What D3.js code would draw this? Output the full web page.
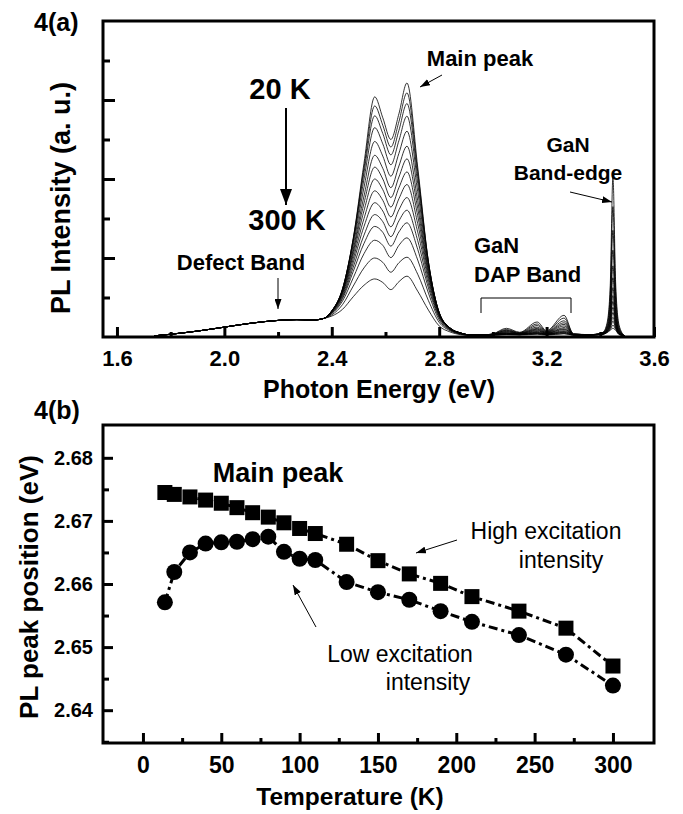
<!DOCTYPE html>
<html>
<head>
<meta charset="utf-8">
<script src="https://cdn.jsdelivr.net/npm/d3@7"></script>
<style>
	body { margin: 0; background: #fff; }
	svg { display: block; font-family: "Liberation Sans", Arial, sans-serif; }
</style>
</head>
<body>
<div id="chart"></div>
<script>
// ---- panel (a): PL spectra, 20 K (top) to 300 K (bottom)
const temps = [20, 40, 60, 80, 100, 120, 140, 160, 180, 200, 220, 240, 260, 280, 300];

// low energy tail, all curves lie on top of each other here
const tailEnergy = [1.74, 1.80, 1.90, 2.00, 2.10, 2.20, 2.27, 2.33, 2.37];
const tailLevel = [0.03, 0.07, 0.15, 0.25, 0.35, 0.42, 0.44, 0.43, 0.47];

// main double peak
const peakEnergy = [2.40, 2.44, 2.48, 2.52, 2.56, 2.59, 2.62, 2.65, 2.68, 2.72, 2.76, 2.80, 2.84, 2.88, 2.92];
const peakLevels = [
	[0.65, 1.20, 2.50, 4.40, 6.08, 5.55, 5.00, 5.65, 6.43, 4.30, 1.90, 0.60, 0.22, 0.10, 0.05],
	[0.66, 1.21, 2.49, 4.29, 5.85, 5.36, 4.81, 5.45, 6.18, 4.19, 1.90, 0.61, 0.23, 0.10, 0.05],
	[0.66, 1.22, 2.46, 4.17, 5.60, 5.15, 4.61, 5.23, 5.91, 4.06, 1.89, 0.62, 0.23, 0.10, 0.05],
	[0.66, 1.21, 2.41, 4.00, 5.30, 4.89, 4.36, 4.97, 5.59, 3.89, 1.85, 0.62, 0.23, 0.10, 0.05],
	[0.66, 1.19, 2.33, 3.79, 4.95, 4.58, 4.07, 4.65, 5.21, 3.68, 1.79, 0.62, 0.23, 0.10, 0.05],
	[0.65, 1.16, 2.23, 3.57, 4.60, 4.27, 3.78, 4.33, 4.83, 3.45, 1.72, 0.60, 0.23, 0.10, 0.05],
	[0.65, 1.14, 2.16, 3.39, 4.30, 4.00, 3.53, 4.05, 4.51, 3.26, 1.66, 0.59, 0.23, 0.10, 0.05],
	[0.64, 1.12, 2.08, 3.20, 4.00, 3.73, 3.29, 3.78, 4.18, 3.07, 1.60, 0.58, 0.22, 0.10, 0.05],
	[0.64, 1.09, 1.98, 3.00, 3.70, 3.46, 3.04, 3.50, 3.86, 2.87, 1.52, 0.56, 0.22, 0.10, 0.05],
	[0.63, 1.05, 1.88, 2.80, 3.40, 3.19, 2.79, 3.22, 3.53, 2.66, 1.44, 0.54, 0.21, 0.09, 0.05],
	[0.62, 1.01, 1.77, 2.58, 3.10, 2.92, 2.54, 2.94, 3.21, 2.44, 1.34, 0.51, 0.20, 0.09, 0.05],
	[0.60, 0.97, 1.66, 2.37, 2.80, 2.65, 2.30, 2.66, 2.89, 2.22, 1.24, 0.48, 0.19, 0.09, 0.05],
	[0.59, 0.91, 1.50, 2.11, 2.45, 2.32, 2.01, 2.32, 2.51, 1.95, 1.11, 0.43, 0.18, 0.08, 0.04],
	[0.56, 0.82, 1.29, 1.75, 2.00, 1.89, 1.64, 1.88, 2.02, 1.59, 0.92, 0.37, 0.16, 0.07, 0.04],
	[0.53, 0.70, 1.02, 1.31, 1.47, 1.38, 1.20, 1.40, 1.54, 1.16, 0.68, 0.28, 0.13, 0.06, 0.04]
];

// GaN donor-acceptor pair band
const dapEnergy = [2.96, 3.00, 3.05, 3.10, 3.165, 3.20, 3.265, 3.30, 3.36];
const dapLevels = [
	[0.05, 0.08, 0.22, 0.12, 0.38, 0.16, 0.55, 0.08, 0.06],
	[0.05, 0.08, 0.19, 0.11, 0.33, 0.14, 0.48, 0.08, 0.06],
	[0.05, 0.07, 0.17, 0.10, 0.29, 0.13, 0.41, 0.07, 0.06],
	[0.05, 0.07, 0.16, 0.09, 0.25, 0.12, 0.36, 0.07, 0.06],
	[0.05, 0.07, 0.14, 0.09, 0.22, 0.11, 0.32, 0.07, 0.06],
	[0.05, 0.06, 0.13, 0.08, 0.20, 0.10, 0.28, 0.06, 0.05],
	[0.05, 0.06, 0.11, 0.08, 0.18, 0.09, 0.24, 0.06, 0.05],
	[0.05, 0.06, 0.10, 0.07, 0.16, 0.09, 0.21, 0.06, 0.05],
	[0.05, 0.06, 0.10, 0.07, 0.14, 0.08, 0.19, 0.06, 0.05],
	[0.05, 0.06, 0.09, 0.07, 0.12, 0.07, 0.16, 0.06, 0.05],
	[0.05, 0.06, 0.08, 0.06, 0.11, 0.07, 0.14, 0.06, 0.05],
	[0.05, 0.05, 0.07, 0.06, 0.10, 0.07, 0.12, 0.05, 0.05],
	[0.05, 0.05, 0.07, 0.06, 0.09, 0.06, 0.11, 0.05, 0.05],
	[0.05, 0.05, 0.06, 0.06, 0.08, 0.06, 0.09, 0.05, 0.05],
	[0.05, 0.05, 0.06, 0.05, 0.07, 0.05, 0.08, 0.05, 0.05]
];

// GaN band-edge line
const edgeEnergy = [3.39, 3.41, 3.425, 3.437, 3.447, 3.457, 3.47, 3.49];
const edgeLevels = [
	[0.07, 0.12, 0.35, 1.30, 4.05, 1.40, 0.30, 0.03],
	[0.07, 0.11, 0.30, 1.09, 3.30, 1.16, 0.25, 0.03],
	[0.07, 0.11, 0.26, 0.91, 2.70, 0.96, 0.21, 0.03],
	[0.07, 0.10, 0.23, 0.76, 2.20, 0.80, 0.18, 0.03],
	[0.07, 0.10, 0.21, 0.64, 1.80, 0.68, 0.16, 0.03],
	[0.07, 0.10, 0.19, 0.55, 1.50, 0.58, 0.14, 0.03],
	[0.07, 0.09, 0.18, 0.48, 1.25, 0.50, 0.13, 0.03],
	[0.07, 0.09, 0.16, 0.42, 1.05, 0.44, 0.11, 0.03],
	[0.07, 0.09, 0.15, 0.37, 0.90, 0.39, 0.10, 0.03],
	[0.06, 0.08, 0.15, 0.33, 0.75, 0.34, 0.10, 0.03],
	[0.06, 0.08, 0.14, 0.29, 0.62, 0.30, 0.09, 0.03],
	[0.06, 0.08, 0.13, 0.25, 0.50, 0.26, 0.08, 0.03],
	[0.06, 0.07, 0.12, 0.22, 0.40, 0.23, 0.07, 0.03],
	[0.06, 0.07, 0.12, 0.19, 0.30, 0.20, 0.07, 0.03],
	[0.05, 0.07, 0.11, 0.17, 0.22, 0.17, 0.06, 0.03]
];

const energyTicks = [1.6, 2.0, 2.4, 2.8, 3.2, 3.6];
const energyMinor = [1.8, 2.2, 2.6, 3.0, 3.4];
const intensityTicks = [2, 4, 6];
const intensityMinor = [1, 3, 5, 7];

// ---- panel (b): main peak position vs temperature
const tempK = [14, 20, 30, 40, 50, 60, 70, 80, 90, 100, 110, 130, 150, 170, 190, 210, 240, 270, 300];
const highExc = [2.6745, 2.6742, 2.6738, 2.6733, 2.6728, 2.6721, 2.6713, 2.6706, 2.6697, 2.6688, 2.6680,
	2.6663, 2.6637, 2.6616, 2.6601, 2.6580, 2.6557, 2.6530, 2.6470];
const lowExc = [2.6571, 2.6619, 2.6650, 2.6664, 2.6666, 2.6667, 2.6671, 2.6675, 2.6651, 2.6640, 2.6638,
	2.6603, 2.6587, 2.6575, 2.6557, 2.6540, 2.6519, 2.6488, 2.6439];

const tempTicks = [0, 50, 100, 150, 200, 250, 300];
const tempMinor = [25, 75, 125, 175, 225, 275];
const posTicks = [2.64, 2.65, 2.66, 2.67, 2.68];
const posMinor = [2.635, 2.645, 2.655, 2.665, 2.675];

const width = 683;
const height = 814;
const left = 103, right = 654;
const topA = { y0: 21, y1: 337 };
const topB = { y0: 425, y1: 743 };

const svg = d3.select("#chart")
	.append("svg")
	.attr("width", width)
	.attr("height", height)
	.attr("viewBox", [0, 0, width, height]);

const defs = svg.append("defs");
function arrowMarker(id, len, half) {
	defs.append("marker")
		.attr("id", id)
		.attr("markerUnits", "userSpaceOnUse")
		.attr("viewBox", `0 ${-half} ${len} ${2 * half}`)
		.attr("refX", len)
		.attr("refY", 0)
		.attr("markerWidth", len)
		.attr("markerHeight", 2 * half)
		.attr("orient", "auto")
		.append("path")
		.attr("d", `M0,${-half}L${len},0L0,${half}Z`)
		.attr("fill", "#000");
}
arrowMarker("head", 10, 3.5);
arrowMarker("bighead", 16, 6);

function text(x, y, str, size, weight, anchor) {
	return svg.append("text")
		.attr("x", x)
		.attr("y", y)
		.attr("font-size", size)
		.attr("font-weight", weight || "bold")
		.attr("text-anchor", anchor || "start")
		.attr("fill", "#000")
		.text(str);
}

function vtext(x, y, str, size) {
	return svg.append("text")
		.attr("transform", `translate(${x},${y}) rotate(-90)`)
		.attr("font-size", size)
		.attr("font-weight", "bold")
		.attr("text-anchor", "middle")
		.attr("fill", "#000")
		.text(str);
}

function arrow(x1, y1, x2, y2, w, head) {
	svg.append("line")
		.attr("x1", x1).attr("y1", y1)
		.attr("x2", x2).attr("y2", y2)
		.attr("stroke", "#000")
		.attr("stroke-width", w)
		.attr("marker-end", `url(#${head})`);
}

function ticks(g, axis, values, size) {
	g.call(axis.tickValues(values).tickSize(-size))
		.call(g => g.select(".domain").remove())
		.call(g => g.selectAll(".tick line").attr("stroke", "#000").attr("stroke-width", 3));
}

// ================= panel (a)
const xE = d3.scaleLinear()
	.domain([1.548, 3.6])
	.range([left, right]);

const yI = d3.scaleLinear()
	.domain([0, 8])
	.range([topA.y1, topA.y0]);

const spectra = temps.map((t, i) => [].concat(
	tailEnergy.map((e, j) => [e, tailLevel[j]]),
	peakEnergy.map((e, j) => [e, peakLevels[i][j]]),
	dapEnergy.map((e, j) => [e, dapLevels[i][j]]),
	edgeEnergy.map((e, j) => [e, edgeLevels[i][j]])
));

const line = d3.line()
	.curve(d3.curveMonotoneX)
	.x(d => xE(d[0]))
	.y(d => yI(d[1]));

svg.append("g")
	.selectAll("path")
	.data(spectra)
	.join("path")
	.attr("fill", "none")
	.attr("stroke", "#000")
	.attr("stroke-width", 0.8)
	.attr("d", line);

svg.append("g")
	.attr("transform", `translate(0,${topA.y1})`)
	.call(g => ticks(g, d3.axisBottom(xE).tickPadding(13).tickFormat(d3.format(".1f")), energyTicks, 10))
	.call(g => g.selectAll(".tick text")
		.attr("font-size", 22)
		.attr("font-weight", "bold")
		.attr("fill", "#000")
		.attr("font-family", null));

svg.append("g")
	.attr("transform", `translate(0,${topA.y1})`)
	.call(g => ticks(g, d3.axisBottom(xE).tickFormat(""), energyMinor, 5));

svg.append("g")
	.attr("transform", `translate(${left},0)`)
	.call(g => ticks(g, d3.axisLeft(yI).tickFormat(""), intensityTicks, 12));

svg.append("g")
	.attr("transform", `translate(${left},0)`)
	.call(g => ticks(g, d3.axisLeft(yI).tickFormat(""), intensityMinor, 7));

svg.append("rect")
	.attr("x", left)
	.attr("y", topA.y0)
	.attr("width", right - left)
	.attr("height", topA.y1 - topA.y0)
	.attr("fill", "none")
	.attr("stroke", "#000")
	.attr("stroke-width", 3);

text(34, 31, "4(a)", 25);
text(379, 398, "Photon Energy (eV)", 25, "bold", "middle");
vtext(70, 198, "PL Intensity (a. u.)", 27);

text(280, 99, "20 K", 29, "bold", "middle");
arrow(286, 108, 286, 205, 2, "bighead");
text(287, 230, "300 K", 29, "bold", "middle");

text(480, 66, "Main peak", 22, "bold", "middle");
arrow(442, 75, 420, 87, 1, "head");

text(568, 152, "GaN", 21, "bold", "middle");
text(568, 180, "Band-edge", 21, "bold", "middle");
arrow(570, 192, 612, 202, 1, "head");

text(241, 270, "Defect Band", 22, "bold", "middle");
arrow(278, 278, 278, 309, 1, "head");

text(474, 253, "GaN", 22);
text(474, 282, "DAP Band", 22);
svg.append("path")
	.attr("d", "M481,313V298H571V313")
	.attr("fill", "none")
	.attr("stroke", "#000")
	.attr("stroke-width", 1);

// ================= panel (b)
const xT = d3.scaleLinear()
	.domain([-25.5, 326.2])
	.range([left, right]);

const yP = d3.scaleLinear()
	.domain([2.6348, 2.6852])
	.range([topB.y1, topB.y0]);

svg.append("g")
	.attr("transform", `translate(0,${topB.y1})`)
	.call(g => ticks(g, d3.axisBottom(xT).tickPadding(14), tempTicks, 10))
	.call(g => g.selectAll(".tick text")
		.attr("font-size", 23)
		.attr("font-weight", "bold")
		.attr("fill", "#000")
		.attr("font-family", null));

svg.append("g")
	.attr("transform", `translate(0,${topB.y1})`)
	.call(g => ticks(g, d3.axisBottom(xT).tickFormat(""), tempMinor, 5));

svg.append("g")
	.attr("transform", `translate(${left},0)`)
	.call(g => ticks(g, d3.axisLeft(yP).tickPadding(10).tickFormat(d3.format(".2f")), posTicks, 10))
	.call(g => g.selectAll(".tick text")
		.attr("font-size", 20)
		.attr("font-weight", "bold")
		.attr("fill", "#000")
		.attr("font-family", null));

svg.append("g")
	.attr("transform", `translate(${left},0)`)
	.call(g => ticks(g, d3.axisLeft(yP).tickFormat(""), posMinor, 6));

svg.append("rect")
	.attr("x", left)
	.attr("y", topB.y0)
	.attr("width", right - left)
	.attr("height", topB.y1 - topB.y0)
	.attr("fill", "none")
	.attr("stroke", "#000")
	.attr("stroke-width", 3);

const dashLine = d3.line()
	.x((d, i) => xT(tempK[i]))
	.y(d => yP(d));

[highExc, lowExc].forEach(series => {
	svg.append("path")
		.attr("d", dashLine(series))
		.attr("fill", "none")
		.attr("stroke", "#000")
		.attr("stroke-width", 3)
		.attr("stroke-dasharray", "9,4,3,4");
});

svg.append("g")
	.selectAll("rect")
	.data(highExc)
	.join("rect")
	.attr("x", (d, i) => xT(tempK[i]) - 7.5)
	.attr("y", d => yP(d) - 7.5)
	.attr("width", 15)
	.attr("height", 15)
	.attr("fill", "#000");

svg.append("g")
	.selectAll("circle")
	.data(lowExc)
	.join("circle")
	.attr("cx", (d, i) => xT(tempK[i]))
	.attr("cy", d => yP(d))
	.attr("r", 8)
	.attr("fill", "#000");

text(34, 419, "4(b)", 25);
text(350, 805, "Temperature (K)", 24.5, "bold", "middle");
vtext(38, 587, "PL peak position (eV)", 26);
text(278, 482, "Main peak", 27, "bold", "middle");

text(546, 539, "High excitation", 23, "normal", "middle");
text(561, 568, "intensity", 23, "normal", "middle");
arrow(457, 540, 416, 553, 1, "head");

text(400, 662, "Low excitation", 23, "normal", "middle");
text(428, 690, "intensity", 23, "normal", "middle");
arrow(316, 627, 293, 585, 1, "head");
</script>
</body>
</html>
